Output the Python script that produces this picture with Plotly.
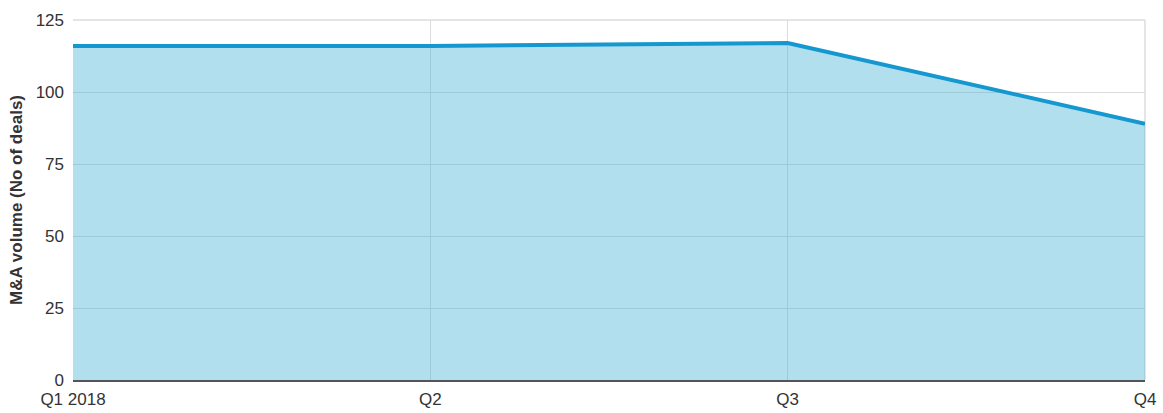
import plotly.graph_objects as go

quarters = ["Q1 2018", "Q2", "Q3", "Q4"]
deals = [116, 116, 117, 89]
y_ticks = [0, 25, 50, 75, 100, 125]

fig = go.Figure()
fig.add_trace(go.Scatter(
    x=quarters, y=deals, mode="lines",
    line=dict(color="#1598cf", width=4),
    fill="tozeroy", fillcolor="rgba(63,175,213,0.4)",
    hoverinfo="skip", showlegend=False,
))

fig.update_layout(
    width=1163, height=413,
    margin=dict(l=73, r=18, t=20, b=33, autoexpand=False),
    paper_bgcolor="white", plot_bgcolor="white",
    font=dict(family="Liberation Sans, Arial, sans-serif", size=17, color="#333333"),
    xaxis=dict(
        type="category", range=[0, 3], showgrid=True, gridcolor="#dcdcdc", gridwidth=1,
        showline=True, linecolor="#555555", linewidth=1.5, automargin=False,
        ticks="", ticklabelstandoff=3, zeroline=False,
        tickfont=dict(size=17, color="#333333"),
    ),
    yaxis=dict(
        range=[0, 125], tickvals=y_ticks, showgrid=True, gridcolor="#dcdcdc", gridwidth=1,
        zeroline=False, showline=False, ticks="", ticklabelstandoff=8, automargin=False,
        tickfont=dict(size=17, color="#333333"),
        title=dict(text="<b>M&A volume (No of deals)</b>", font=dict(size=17, color="#333333"), standoff=8),
    ),
)
fig.add_shape(type="line", xref="paper", yref="paper", x0=1, x1=1, y0=0, y1=1,
              line=dict(color="#dcdcdc", width=1.5), layer="below")
fig.add_shape(type="line", xref="paper", yref="paper", x0=0, x1=1, y0=1, y1=1,
              line=dict(color="#dcdcdc", width=1.5), layer="below")

fig.write_html("out.html")
